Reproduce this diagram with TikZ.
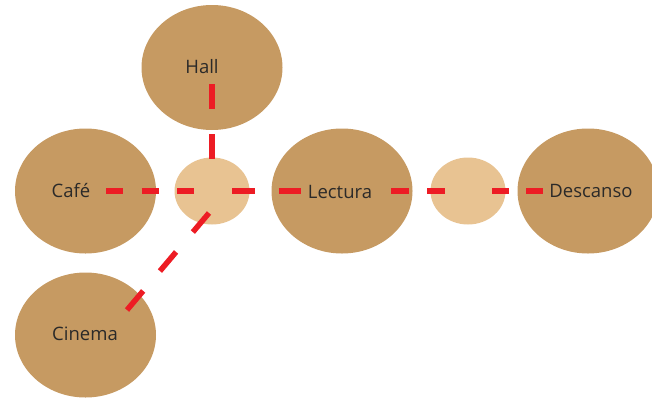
\documentclass[tikz,border=0pt]{standalone}
\usepackage{fontspec}
\setmainfont{Open Sans}
\usetikzlibrary{shapes.geometric}
\definecolor{roomfill}{HTML}{C69A62}
\definecolor{hubfill}{HTML}{E8C392}
\definecolor{linkred}{HTML}{ED1C24}
\definecolor{txt}{HTML}{2B2A29}
\begin{document}
\begin{tikzpicture}[x=1pt, y=-1pt,
		room/.style={ellipse, fill=roomfill, minimum width=141pt, minimum height=125pt, inner sep=0pt},
		hub/.style={ellipse, fill=hubfill, minimum width=75pt, minimum height=67pt, inner sep=0pt},
		lbl/.style={text=txt, font=\fontsize{18.5}{20}\selectfont, inner sep=0pt},
		link/.style={draw=linkred, line width=5.5pt}]
		\useasboundingbox (0,0) rectangle (652,399);
		\clip (0,0) rectangle (652,399);
		
		\node[room] (H) at (212,67.5) {};
		\node[room] (C) at (85.5,191) {};
		\node[room] (L) at (342,191) {};
		\node[room] (D) at (588,191) {};
		\node[room] (K) at (85.5,335) {};
		\node[hub] (A) at (212,191) {};
		\node[hub] (B) at (468,191) {};
		
		\node[lbl] (Ht) at (202,67) {Hall};
		\node[lbl] (Ct) at (71,190) {Café};
		\node[lbl] (Lt) at (340,192) {Lectura};
		\node[lbl] (Dt) at (591,191) {Descanso};
		\node[lbl] (Kt) at (85,334) {Cinema};
		
		% ends of the slanted link
		\coordinate (AK1) at (209,213);
		\coordinate (AK2) at (127,310);
		
		\path [link, dash pattern=on 17pt off 18.5pt, shorten <=20.5pt, shorten >=18pt] (C.center) -- (A.center);
		\path [link, dash pattern=on 22.5pt off 24pt, shorten <=20pt, shorten >=41pt] (A.center) -- (L.center);
		\path [link, dash pattern=on 25pt off 25pt, shorten <=16.5pt, shorten >=32pt] (H.center) -- (A.center);
		\path [link, dash pattern=on 25pt off 26pt] (AK1) -- (AK2);
		\path [link, dash pattern=on 18pt off 18pt, shorten <=49pt, shorten >=23pt] (L.center) -- (B.center);
		\path [link, dash pattern=on 17pt off 17pt, shorten <=24pt, shorten >=45pt] (B.center) -- (D.center);
		\end{tikzpicture}
\end{document}
